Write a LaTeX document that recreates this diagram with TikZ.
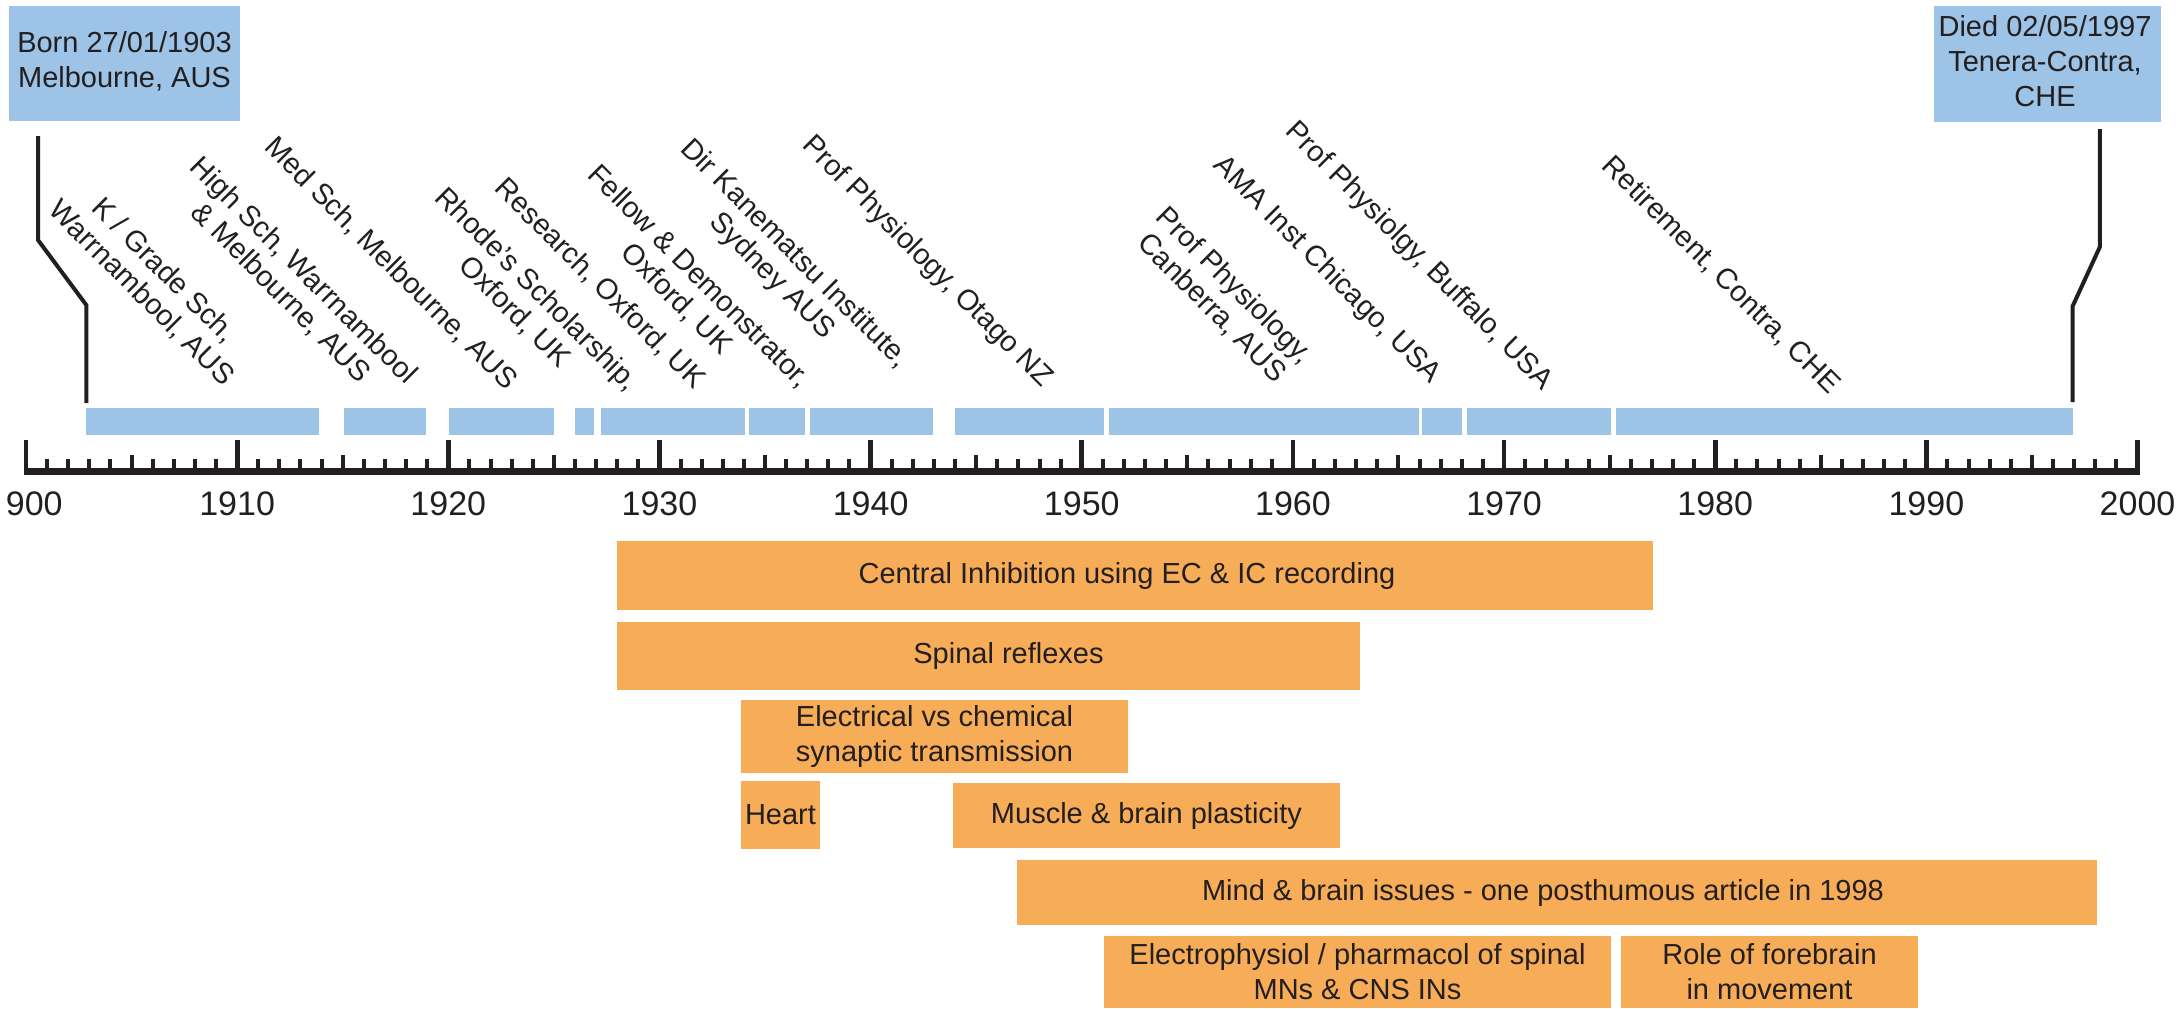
\documentclass[tikz,border=0pt]{standalone}
\usepackage{fontspec}
\setmainfont{Liberation Sans}
\definecolor{bbar}{HTML}{9DC3E6}
\definecolor{obar}{HTML}{F7AD57}
\definecolor{ink}{HTML}{231F20}
% name, x1, y1, x2, y2, text-x-offset, text
\newcommand\obox[7]{%
  \fill[obar] (#2,#3) rectangle (#4,#5);
  \node[txt] (#1) at ({(#2+#4)/2+#6},{(#3+#5)/2}) {#7};
}
\begin{document}
\begin{tikzpicture}[x=0.5pt,y=-0.5pt,
  txt/.style={font=\fontsize{14.5}{17.5}\selectfont, text=ink, inner sep=0pt, align=center},
  lbl/.style={txt, font=\fontsize{14.5}{16}\selectfont, rotate=-45},
  yrlbl/.style={font=\fontsize{17}{20}\selectfont, text=ink, inner sep=0pt, anchor=base},
  conn/.style={draw=ink, line width=2pt}]
\useasboundingbox (0,0) rectangle (2183,1008);

% top boxes
\fill[bbar] (9,6) rectangle (240,121);
\node[txt] (born) at (124.5,61) {Born 27/01/1903\\Melbourne, AUS};
\fill[bbar] (1934,6) rectangle (2161,122);
\node[txt] (died) at (2045,61) {Died 02/05/1997\\Tenera-Contra,\\CHE};

% blue career bars
\foreach \a/\b [count=\i] in {86.3/319.2, 343.7/425.8, 449/554.2, 575.2/594.2, 601.2/745, 748.5/804.6, 810.2/933, 955.4/1104.2, 1109.2/1418.5, 1422/1461.8, 1467/1610.7, 1615.8/2073}
  \fill[bbar] (\a,408) rectangle (\b,435);

% connectors
\coordinate (bs) at (38,136);
\coordinate (be) at (86.3,403);
\draw[conn] (bs) -- (38,240) -- (86.3,305) -- (be);
\coordinate (ds) at (2099.8,129);
\coordinate (de) at (2072.7,402);
\draw[conn] (ds) -- (2099.8,247) -- (2072.7,306) -- (de);

% axis
\draw[ink, line width=3.2pt] (24,471.5) -- (2139.5,471.5);
\foreach \yr in {1900,...,2000}{
  \pgfmathsetmacro\xx{26+21.115*(\yr-1900)}
  \pgfmathtruncatemacro\mt{mod(\yr,10)}
  \pgfmathtruncatemacro\mf{mod(\yr,5)}
  \ifnum\mt=0
    \draw[ink, line width=2.4pt] (\xx,472) -- (\xx,440);
  \else\ifnum\mf=0
    \draw[ink, line width=2pt] (\xx,472) -- (\xx,455);
  \else
    \draw[ink, line width=2pt] (\xx,472) -- (\xx,459);
  \fi\fi
}
\node[yrlbl, anchor=base east] (y1900) at (63,515) {900};
\foreach \yr in {1910,1920,...,2000}{
  \pgfmathsetmacro\xx{26+21.115*(\yr-1900)}
  \node[yrlbl] (y\yr) at (\xx,515) {\yr};
}

% rotated labels
\node[lbl] (l1) at (152.5,282) {K / Grade Sch,\\Warrnambool, AUS};
\node[lbl] (l2) at (292,282) {High Sch, Warrnambool\\\& Melbourne, AUS};
\node[lbl] (l3) at (391,264) {Med Sch, Melbourne, AUS};
\node[lbl] (l4) at (525.5,301) {Rhode’s Scholarship,\\Oxford, UK};
\node[lbl] (l5) at (600,284) {Research, Oxford, UK};
\node[lbl] (l6) at (687.5,288) {Fellow \& Demonstrator,\\Oxford, UK};
\node[lbl] (l7) at (783,265.5) {Dir Kanematsu Institute,\\Sydney AUS};
\node[lbl] (l8) at (927,262) {Prof Physiology, Otago NZ};
\node[lbl] (l9) at (1223,297) {Prof Physiology,\\Canberra, AUS};
\node[lbl] (l10) at (1327,270.5) {AMA Inst Chicago, USA};
\node[lbl] (l11) at (1418.5,256.5) {Prof Physiolgy, Buffalo, USA};
\node[lbl] (l12) at (1721,275) {Retirement, Contra, CHE};

% research themes
\obox{ci}{617}{541}{1653}{610}{-8}{Central Inhibition using EC \& IC recording}
\obox{sr}{617}{622}{1360}{690}{20}{Spinal reflexes}
\obox{ev}{741}{700}{1128}{773}{0}{Electrical vs chemical\\synaptic transmission}
\obox{ht}{741}{781}{820}{849}{0}{Heart}
\obox{mb}{953}{783}{1340}{848}{0}{Muscle \& brain plasticity}
\obox{mi}{1017}{860}{2097}{925}{-14}{Mind \& brain issues - one posthumous article in 1998}
\obox{ep}{1104}{936}{1611}{1008}{0}{Electrophysiol / pharmacol of spinal\\MNs \& CNS INs}
\obox{rf}{1621}{936}{1918}{1008}{0}{Role of forebrain\\in movement}
\end{tikzpicture}
\end{document}
